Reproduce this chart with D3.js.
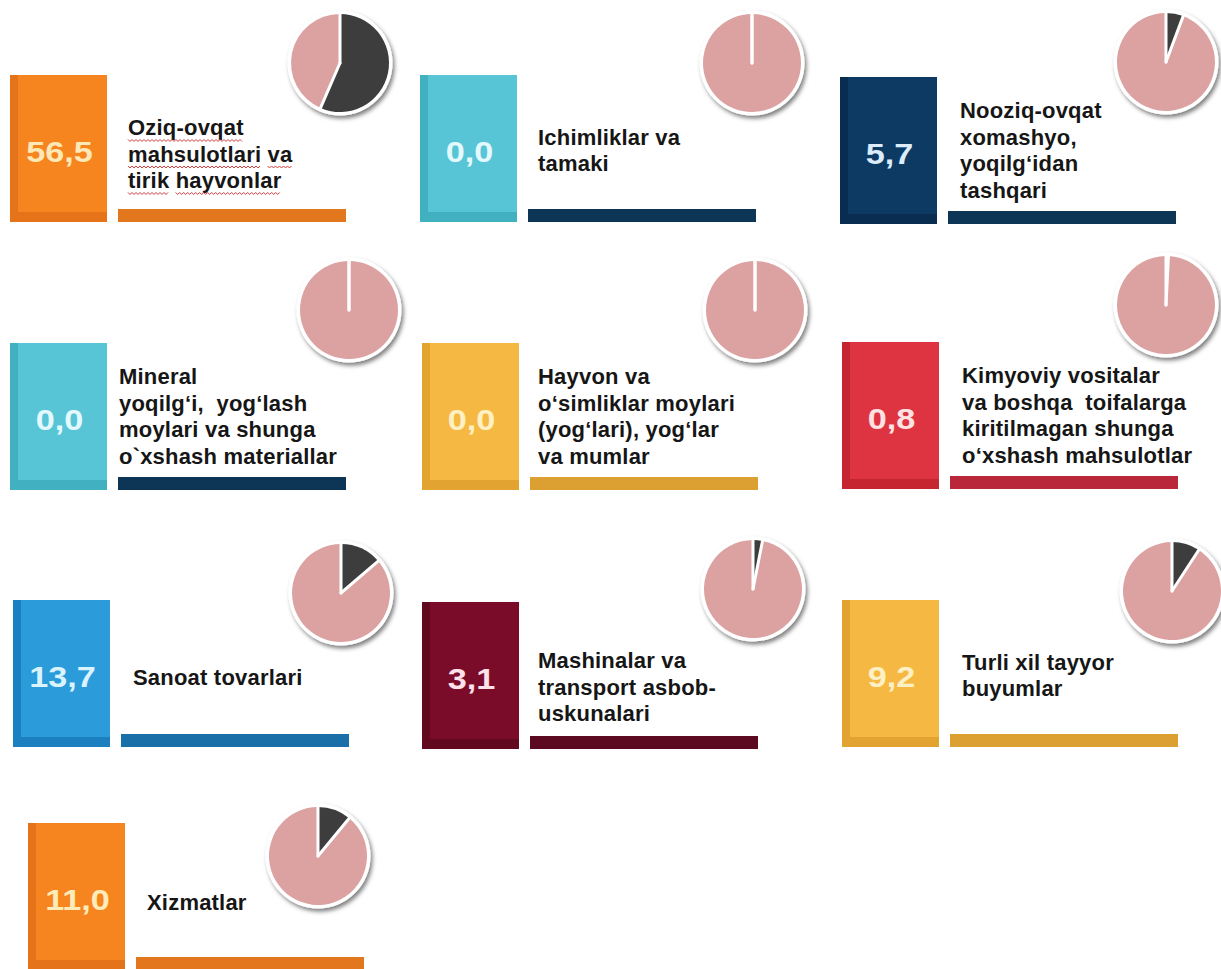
<!DOCTYPE html>
<html>
<head>
<meta charset="utf-8">
<script src="https://cdn.jsdelivr.net/npm/d3@7"></script>
<style>
body { margin: 0; background: #fff; }
svg { display: block; font-family: "Liberation Sans", Arial, sans-serif; }
.label { font-size: 22px; font-weight: bold; fill: #161616; white-space: pre; letter-spacing: 0.2px; }
.value { font-size: 29px; font-weight: bold; }
</style>
</head>
<body>
<div id="chart"></div>
<script>
// data: category labels (as printed, line by line) and share in %
var labels = [
    ["Oziq-ovqat", "mahsulotlari va", "tirik hayvonlar"],
    ["Ichimliklar va", "tamaki"],
    ["Nooziq-ovqat", "xomashyo,", "yoqilg\u2018idan", "tashqari"],
    ["Mineral", "yoqilg\u2018i,  yog\u2018lash", "moylari va shunga", "o`xshash materiallar"],
    ["Hayvon va", "o\u2018simliklar moylari", "(yog\u2018lari), yog\u2018lar", "va mumlar"],
    ["Kimyoviy vositalar", "va boshqa  toifalarga", "kiritilmagan shunga", "o\u2018xshash mahsulotlar"],
    ["Sanoat tovarlari"],
    ["Mashinalar va", "transport asbob-", "uskunalari"],
    ["Turli xil tayyor", "buyumlar"],
    ["Xizmatlar"]
];
var shares = [56.5, 0.0, 5.7, 0.0, 0.0, 0.8, 13.7, 3.1, 9.2, 11.0];

// styles
var faceColors = ["#f6841f", "#57c5d5", "#0c3a63", "#57c5d5", "#f5b943", "#de3340", "#2b9bd9", "#7a0b29", "#f5b943", "#f6841f"];
var edgeColors = ["#e5731a", "#41b0c1", "#082d50", "#41b0c1", "#e2a331", "#c5262f", "#1b7fc0", "#62081f", "#e2a331", "#e5731a"];
var barColors  = ["#e2771d", "#0d3556", "#0d3556", "#0d3556", "#dca032", "#b9283a", "#1a6fa8", "#5c0a22", "#dca032", "#e2771d"];
var valueColors = ["#fde8b8", "#e4f9fd", "#dcecfb", "#e4f9fd", "#fdf0c4", "#ffe3e3", "#d9f3ff", "#ffe1ea", "#fdf0c4", "#fdecb8"];
var pieDark = "#3d3d3d", piePink = "#dca2a2";

// layout: box corner, pie centre, label nudges
var layout = [
    {x: 10,  y: 75,  px: 340,  py: 63,  tx: 10, ty: 6},
    {x: 420, y: 75,  px: 752,  py: 63,  tx: 10, ty: 2},
    {x: 840, y: 77,  px: 1166, py: 62,  tx: 12, ty: 0},
    {x: 10,  y: 343, px: 349,  py: 310, tx: 1,  ty: 0},
    {x: 422, y: 343, px: 755,  py: 310, tx: 8,  ty: 0},
    {x: 842, y: 342, px: 1166, py: 305, tx: 12, ty: 0},
    {x: 13,  y: 600, px: 341,  py: 593, tx: 12, ty: 4},
    {x: 422, y: 602, px: 753,  py: 589, tx: 8,  ty: 12},
    {x: 842, y: 600, px: 1172, py: 591, tx: 12, ty: 2},
    {x: 28,  y: 823, px: 318,  py: 856, tx: 11, ty: 6}
];

var width = 1221, height = 969;
var boxW = 97, boxH = 147, edgeL = 8, edgeB = 10;
var barDx = 108, barDy = 134, barW = 228, barH = 13;
var R = 49, lineH = 26.5;

var fmt = d3.formatLocale({decimal: ",", thousands: " ", grouping: [3], currency: ["", ""]}).format(".1f");

var svg = d3.select("#chart").append("svg")
    .attr("width", width)
    .attr("height", height);

var defs = svg.append("defs");
var shadow = defs.append("filter").attr("id", "shadow")
    .attr("x", "-20%").attr("y", "-20%").attr("width", "150%").attr("height", "150%");
shadow.append("feDropShadow")
    .attr("dx", 2).attr("dy", 3).attr("stdDeviation", 2)
    .attr("flood-color", "#000").attr("flood-opacity", 0.5);

var pie = d3.pie().sort(null).value(function(d) { return d; });
var arc = d3.arc().innerRadius(0).outerRadius(R);

var tiles = svg.selectAll("g.tile")
    .data(shares)
    .enter()
    .append("g")
    .attr("class", "tile");

tiles.each(function(v, i) {
    var g = d3.select(this);
    var L = layout[i];

    // box with darker left / bottom edge
    g.append("rect")
        .attr("x", L.x).attr("y", L.y)
        .attr("width", boxW).attr("height", boxH)
        .attr("fill", edgeColors[i]);
    g.append("rect")
        .attr("x", L.x + edgeL).attr("y", L.y)
        .attr("width", boxW - edgeL).attr("height", boxH - edgeB)
        .attr("fill", faceColors[i]);

    var cx = L.x + boxW / 2, cy = L.y + boxH / 2;
    g.append("text")
        .attr("class", "value")
        .attr("transform", "translate(" + (cx + 1) + "," + (cy + 3.5) + ") scale(1.18,1)")
        .attr("text-anchor", "middle")
        .attr("dy", "0.36em")
        .attr("fill", valueColors[i])
        .text(fmt(v));

    // underline bar
    g.append("rect")
        .attr("x", L.x + barDx).attr("y", L.y + barDy)
        .attr("width", barW).attr("height", barH)
        .attr("fill", barColors[i]);

    // label lines
    var lines = labels[i];
    var tx = L.x + barDx + L.tx;
    var mid = cy + L.ty;
    lines.forEach(function(line, k) {
        var ly = mid + (k - (lines.length - 1) / 2) * lineH;
        var t = g.append("text")
            .attr("class", "label")
            .attr("x", tx)
            .attr("y", ly)
            .attr("dy", "0.34em")
            .text(line);

        // spell-check squiggles under the first tile's words
        if (i === 0) {
            var base = ly + 0.34 * 22 + 4;
            var pos = 0;
            line.split(" ").forEach(function(word) {
                var start = line.indexOf(word, pos);
                var x0 = tx + (start > 0 ? t.node().getSubStringLength(0, start) : 0);
                var x1 = tx + t.node().getSubStringLength(0, start + word.length);
                pos = start + word.length;
                var pts = [];
                for (var xx = x0, up = true; xx <= x1; xx += 2, up = !up) {
                    pts.push([xx, base + (up ? 0 : 2)]);
                }
                g.append("path")
                    .attr("d", d3.line()(pts))
                    .attr("fill", "none")
                    .attr("stroke", "#d23a3a")
                    .attr("stroke-width", 1);
            });
        }
    });

    // pie
    var slices = pie([v, 100 - v]);
    var p = g.append("g").attr("transform", "translate(" + L.px + "," + L.py + ")");
    p.append("circle")
        .attr("r", R + 3.5)
        .attr("fill", "#fff")
        .attr("filter", "url(#shadow)");
    p.selectAll("path.slice")
        .data(slices)
        .enter()
        .append("path")
        .attr("class", "slice")
        .attr("d", arc)
        .attr("fill", function(d, j) { return j === 0 ? pieDark : piePink; });
    // white separators at slice boundaries
    p.selectAll("line.sep")
        .data(slices)
        .enter()
        .append("line")
        .attr("class", "sep")
        .attr("x1", 0).attr("y1", 0)
        .attr("x2", function(d) { return Math.sin(d.startAngle) * R; })
        .attr("y2", function(d) { return -Math.cos(d.startAngle) * R; })
        .attr("stroke", "#fff")
        .attr("stroke-width", 3)
        .attr("stroke-linecap", "round");
});
</script>
</body>
</html>
